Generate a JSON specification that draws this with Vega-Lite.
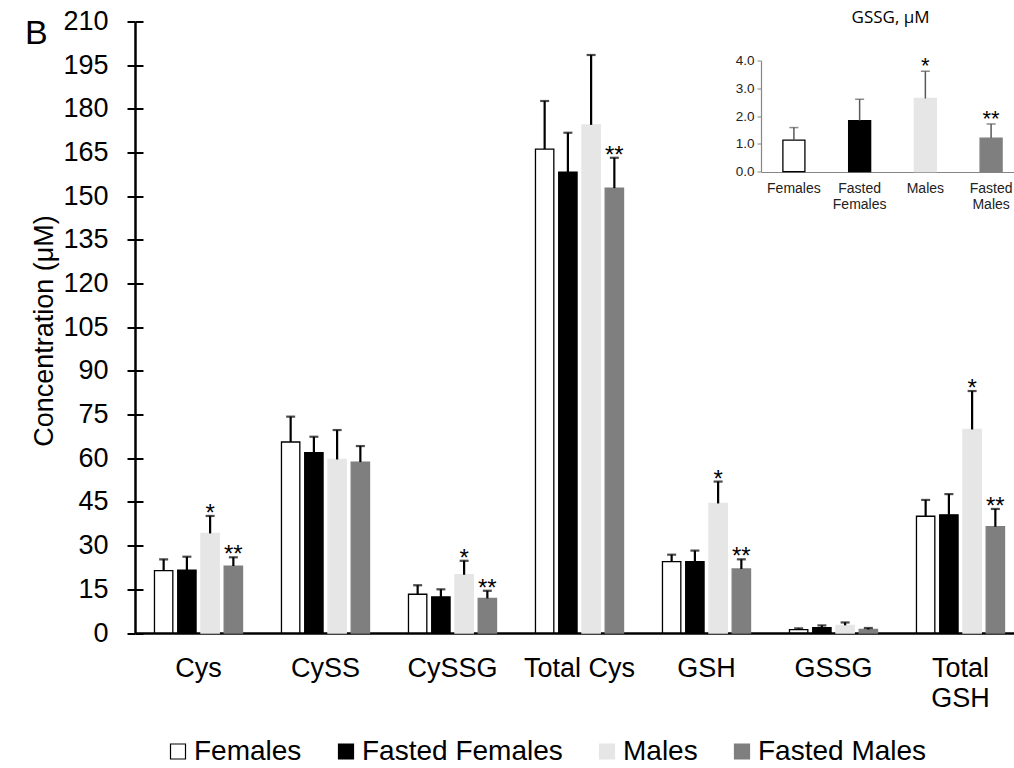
{
  "$schema": "https://vega.github.io/schema/vega-lite/v6.json",
  "width": 879,
  "height": 611.5,
  "autosize": "none",
  "padding": {"left": 135, "top": 21.5, "right": 0, "bottom": 135},
  "config": {
    "view": {"stroke": null},
    "font": "Liberation Sans",
    "axis": {"grid": false, "labelColor": "#000", "titleColor": "#000", "titleFontWeight": "normal"}
  },
  "title": {
    "text": "B",
    "anchor": "start",
    "frame": "group",
    "orient": "top",
    "fontSize": 34,
    "fontWeight": "normal",
    "font": "Liberation Sans",
    "color": "#000",
    "baseline": "alphabetic",
    "offset": 0,
    "dx": -110,
    "dy": 70
  },
  "data": {
    "values": [
      {"compound": "Cys", "group": "Females", "value": 21.4, "err": 25.3, "sig": ""},
      {"compound": "Cys", "group": "Fasted Females", "value": 21.6, "err": 26.2, "sig": ""},
      {"compound": "Cys", "group": "Males", "value": 34.2, "err": 40.2, "sig": "*"},
      {"compound": "Cys", "group": "Fasted Males", "value": 23.0, "err": 26.0, "sig": "**"},
      {"compound": "CySS", "group": "Females", "value": 65.6, "err": 74.3, "sig": ""},
      {"compound": "CySS", "group": "Fasted Females", "value": 61.9, "err": 67.4, "sig": ""},
      {"compound": "CySS", "group": "Males", "value": 59.6, "err": 69.7, "sig": ""},
      {"compound": "CySS", "group": "Fasted Males", "value": 58.7, "err": 64.2, "sig": ""},
      {"compound": "CySSG", "group": "Females", "value": 13.3, "err": 16.4, "sig": ""},
      {"compound": "CySSG", "group": "Fasted Females", "value": 12.4, "err": 15.0, "sig": ""},
      {"compound": "CySSG", "group": "Males", "value": 20.0, "err": 24.8, "sig": "*"},
      {"compound": "CySSG", "group": "Fasted Males", "value": 11.9, "err": 14.5, "sig": "**"},
      {"compound": "Total Cys", "group": "Females", "value": 166.2, "err": 182.7, "sig": ""},
      {"compound": "Total Cys", "group": "Fasted Females", "value": 158.3, "err": 171.8, "sig": ""},
      {"compound": "Total Cys", "group": "Males", "value": 174.5, "err": 198.5, "sig": ""},
      {"compound": "Total Cys", "group": "Fasted Males", "value": 152.8, "err": 163.2, "sig": "**"},
      {"compound": "GSH", "group": "Females", "value": 24.5, "err": 26.9, "sig": ""},
      {"compound": "GSH", "group": "Fasted Females", "value": 24.5, "err": 28.3, "sig": ""},
      {"compound": "GSH", "group": "Males", "value": 44.5, "err": 52.0, "sig": "*"},
      {"compound": "GSH", "group": "Fasted Males", "value": 22.0, "err": 25.3, "sig": "**"},
      {"compound": "GSSG", "group": "Females", "value": 1.14, "err": 1.59, "sig": ""},
      {"compound": "GSSG", "group": "Fasted Females", "value": 1.84, "err": 2.61, "sig": ""},
      {"compound": "GSSG", "group": "Males", "value": 2.64, "err": 3.62, "sig": "*"},
      {"compound": "GSSG", "group": "Fasted Males", "value": 1.21, "err": 1.72, "sig": "**"},
      {"compound": "Total GSH", "group": "Females", "value": 40.1, "err": 45.7, "sig": ""},
      {"compound": "Total GSH", "group": "Fasted Females", "value": 40.6, "err": 47.7, "sig": ""},
      {"compound": "Total GSH", "group": "Males", "value": 69.9, "err": 83.1, "sig": "*"},
      {"compound": "Total GSH", "group": "Fasted Males", "value": 36.5, "err": 42.6, "sig": "**"}
    ]
  },
  "layer": [
    {
      "encoding": {
        "x": {
          "field": "compound",
          "type": "nominal",
          "sort": null,
          "scale": {
            "domain": ["Cys", "CySS", "CySSG", "Total Cys", "GSH", "GSSG", "Total GSH"],
            "range": [0, 889],
            "paddingInner": 0.27,
            "paddingOuter": 0.135
          },
          "axis": {
            "title": null,
            "orient": "bottom",
            "labelAngle": 0,
            "labelFontSize": 27,
            "labelPadding": 22,
            "labelLineHeight": 30,
            "labelExpr": "datum.label == 'Total GSH' ? ['Total', 'GSH'] : datum.label",
            "ticks": false,
            "domainColor": "#000",
            "domainWidth": 2.5,
            "labelLimit": 0
          }
        },
        "xOffset": {
          "field": "group",
          "type": "nominal",
          "scale": {
            "domain": ["Females", "Fasted Females", "Males", "Fasted Males"],
            "paddingInner": 0.21,
            "paddingOuter": 0.1
          }
        }
      },
      "layer": [
        {
          "mark": {"type": "bar", "strokeWidth": 1.3},
          "encoding": {
            "y": {
              "field": "value",
              "type": "quantitative",
              "scale": {"domain": [0, 210], "nice": false},
              "axis": {
                "title": "Concentration (μM)",
                "titleFontSize": 27,
                "titleFont": "Liberation Sans",
                "titleAngle": -90,
                "titleX": -91,
                "titleY": 309,
                "titleAlign": "center",
                "titleBaseline": "middle",
                "values": [0, 15, 30, 45, 60, 75, 90, 105, 120, 135, 150, 165, 180, 195, 210],
                "labelFontSize": 27,
                "labelPadding": 19,
                "tickSize": 8,
                "tickWidth": 2,
                "tickColor": "#000",
                "domainColor": "#000",
                "domainWidth": 2.5
              }
            },
            "fill": {
              "field": "group",
              "type": "nominal",
              "scale": {
                "domain": ["Females", "Fasted Females", "Males", "Fasted Males"],
                "range": ["#ffffff", "#000000", "#e7e6e6", "#7f7f7f"]
              },
              "legend": {
                "title": null,
                "orient": "none",
                "legendX": 29,
                "legendY": 716,
                "direction": "horizontal",
                "symbolType": "square",
                "symbolSize": 225,
                "symbolStrokeWidth": 1.2,
                "labelFontSize": 28,
                "labelOffset": 2,
                "labelLimit": 0,
                "columnPadding": 30,
                "labelColor": "#000"
              }
            },
            "stroke": {
              "field": "group",
              "type": "nominal",
              "scale": {
                "domain": ["Females", "Fasted Females", "Males", "Fasted Males"],
                "range": ["#000000", "#000000", "#e7e6e6", "#7f7f7f"]
              },
              "legend": {
                "title": null,
                "orient": "none",
                "legendX": 29,
                "legendY": 716,
                "direction": "horizontal",
                "symbolType": "square",
                "symbolSize": 225,
                "symbolStrokeWidth": 1.2,
                "labelFontSize": 28,
                "labelOffset": 2,
                "labelLimit": 0,
                "columnPadding": 30,
                "labelColor": "#000"
              }
            }
          }
        },
        {
          "mark": {"type": "rule", "color": "#000", "strokeWidth": 2.2},
          "encoding": {
            "y": {
              "field": "value",
              "type": "quantitative",
              "axis": {
                "orient": "left",
                "offset": -8,
                "domain": false,
                "labels": false,
                "title": null,
                "values": [0, 15, 30, 45, 60, 75, 90, 105, 120, 135, 150, 165, 180, 195, 210],
                "tickSize": 8,
                "tickWidth": 2,
                "tickColor": "#000"
              }
            },
            "y2": {"field": "err"}
          }
        },
        {
          "mark": {"type": "tick", "color": "#000", "size": 9, "thickness": 2.2},
          "encoding": {
            "y": {"field": "err", "type": "quantitative", "axis": null}
          }
        },
        {
          "transform": [{"filter": "datum.compound != 'GSSG'"}],
          "mark": {"type": "text", "fontSize": 24, "baseline": "alphabetic", "dy": 5, "color": "#000", "font": "Liberation Sans"},
          "encoding": {
            "y": {"field": "err", "type": "quantitative", "axis": null},
            "text": {"field": "sig"}
          }
        }
      ],
      "resolve": {"axis": {"y": "independent"}}
    },
    {
      "transform": [{"filter": "datum.compound == 'GSSG'"}],
      "encoding": {
        "x": {
          "field": "group",
          "type": "nominal",
          "sort": null,
          "scale": {
            "domain": ["Females", "Fasted Females", "Males", "Fasted Males"],
            "range": [626, 889],
            "paddingInner": 0.665,
            "paddingOuter": 0.333
          },
          "axis": {
            "title": null,
            "orient": "bottom",
            "offset": -461,
            "labelAngle": 0,
            "labelFontSize": 14,
            "labelPadding": 9,
            "labelLineHeight": 16,
            "labelExpr": "split(datum.label, ' ')",
            "labelColor": "#222",
            "ticks": false,
            "domainColor": "#868686",
            "domainWidth": 1.2,
            "labelLimit": 0
          }
        }
      },
      "layer": [
        {
          "mark": {"type": "bar", "strokeWidth": 1.3},
          "encoding": {
            "y": {
              "field": "value",
              "type": "quantitative",
              "scale": {"domain": [0, 4], "nice": false, "range": [150.2, 39.2]},
              "axis": {
                "orient": "left",
                "offset": -626,
                "title": "GSSG, μM",
                "titleFont": "Open Sans",
                "titleFontSize": 17,
                "titleAngle": 0,
                "titleX": 129,
                "titleY": -4.5,
                "titleAlign": "center",
                "titleBaseline": "middle",
                "values": [0, 1, 2, 3, 4],
                "format": ".1f",
                "labelFontSize": 13.5,
                "labelColor": "#222",
                "labelPadding": 3,
                "tickSize": 4,
                "tickColor": "#868686",
                "domainColor": "#868686",
                "domainWidth": 1.2
              }
            },
            "fill": {"field": "group", "type": "nominal", "legend": null},
            "stroke": {"field": "group", "type": "nominal", "legend": null}
          }
        },
        {
          "mark": {"type": "rule", "color": "#595959", "strokeWidth": 1.5},
          "encoding": {
            "y": {"field": "value", "type": "quantitative"},
            "y2": {"field": "err"}
          }
        },
        {
          "mark": {"type": "tick", "color": "#595959", "size": 9, "thickness": 1.5},
          "encoding": {
            "y": {"field": "err", "type": "quantitative"}
          }
        },
        {
          "mark": {"type": "text", "fontSize": 22, "baseline": "alphabetic", "dy": 2, "color": "#000", "font": "Liberation Sans"},
          "encoding": {
            "y": {"field": "err", "type": "quantitative"},
            "text": {"field": "sig"}
          }
        }
      ]
    }
  ],
  "resolve": {"scale": {"x": "independent", "y": "independent"}}
}
